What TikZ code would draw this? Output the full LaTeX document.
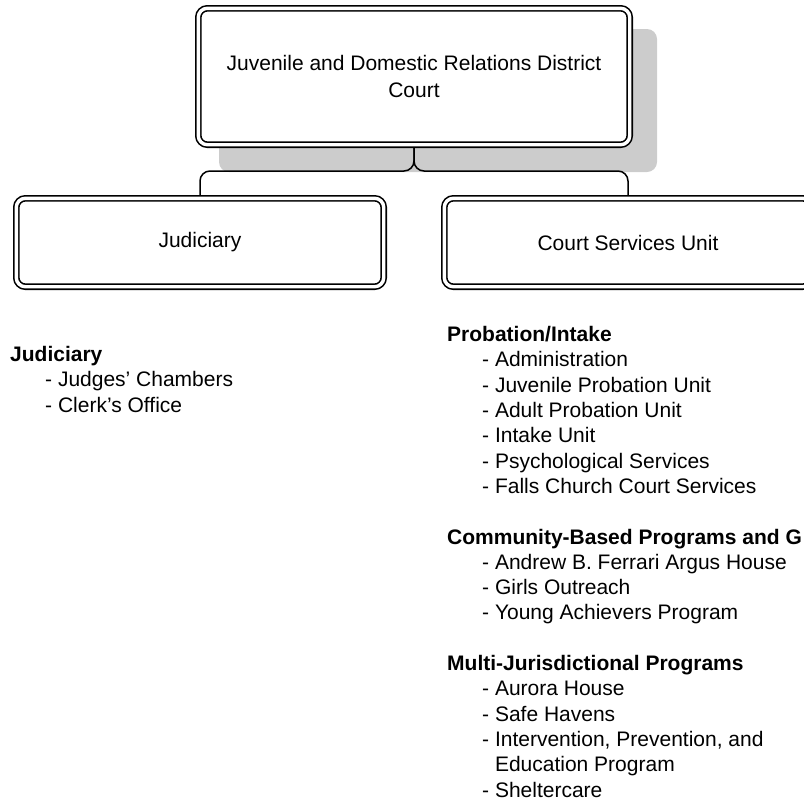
\documentclass[tikz,border=0pt]{standalone}
\usepackage{fontspec}
\setmainfont{Liberation Sans}
\usepackage{tikz}
\usetikzlibrary{backgrounds}
\definecolor{shadowgray}{RGB}{204,204,204}

\tikzset{
  unitbox/.style={draw, double, line width=1.6pt, double distance=3.4pt,
    rounded corners=9pt, fill=white, inner sep=0pt, outer sep=3.3pt,
    align=center, font=\fontsize{21}{27}\selectfont},
  link/.style={line width=1.5pt, rounded corners=10pt},
  unitlist/.style={anchor=base west, align=left, inner sep=0pt,
    font=\fontsize{21}{25.3}\selectfont}
}

\begin{document}
\begin{tikzpicture}[x=1pt,y=-1pt]
\useasboundingbox (0,0) rectangle (804,801);

% Boxes
\node[unitbox, minimum width=431.4pt, minimum height=136.4pt] (court) at (414,76.5)
  {Juvenile and Domestic Relations District\\Court};
\node[unitbox, minimum width=367.4pt, minimum height=88.4pt] (judiciary) at (200,242.5) {Judiciary};
\node[unitbox, minimum width=367.4pt, minimum height=88.4pt] (csu) at (628,242.5) {Court Services Unit};

% Shadow behind the court
\begin{scope}[on background layer]
\fill[shadowgray, rounded corners=10pt] ([shift={(24,24)}]court.north west)
  rectangle ([shift={(24,24)}]court.south east);
\end{scope}

% Links
\draw[link] (court.south) -- ++(0,23) -| (judiciary.north);
\draw[link] (court.south) -- ++(0,23) -| (csu.north);

% Lists (placed at the baseline of their last line)
\node[unitlist] (judlist) at (10,412) {\textbf{Judiciary}\\
  \hspace*{35pt}- Judges’ Chambers\\
  \hspace*{35pt}- Clerk’s Office};

\node[unitlist] (csulist) at (447,797) {\textbf{Probation/Intake}\\
  \hspace*{35pt}- Administration\\
  \hspace*{35pt}- Juvenile Probation Unit\\
  \hspace*{35pt}- Adult Probation Unit\\
  \hspace*{35pt}- Intake Unit\\
  \hspace*{35pt}- Psychological Services\\
  \hspace*{35pt}- Falls Church Court Services\\[25.3pt]
  \textbf{Community-Based Programs and G}\\
  \hspace*{35pt}- Andrew B. Ferrari Argus House\\
  \hspace*{35pt}- Girls Outreach\\
  \hspace*{35pt}- Young Achievers Program\\[25.3pt]
  \textbf{Multi-Jurisdictional Programs}\\
  \hspace*{35pt}- Aurora House\\
  \hspace*{35pt}- Safe Havens\\
  \hspace*{35pt}- Intervention, Prevention, and\\
  \hspace*{35pt}\phantom{- }Education Program\\
  \hspace*{35pt}- Sheltercare};
\end{tikzpicture}
\end{document}
